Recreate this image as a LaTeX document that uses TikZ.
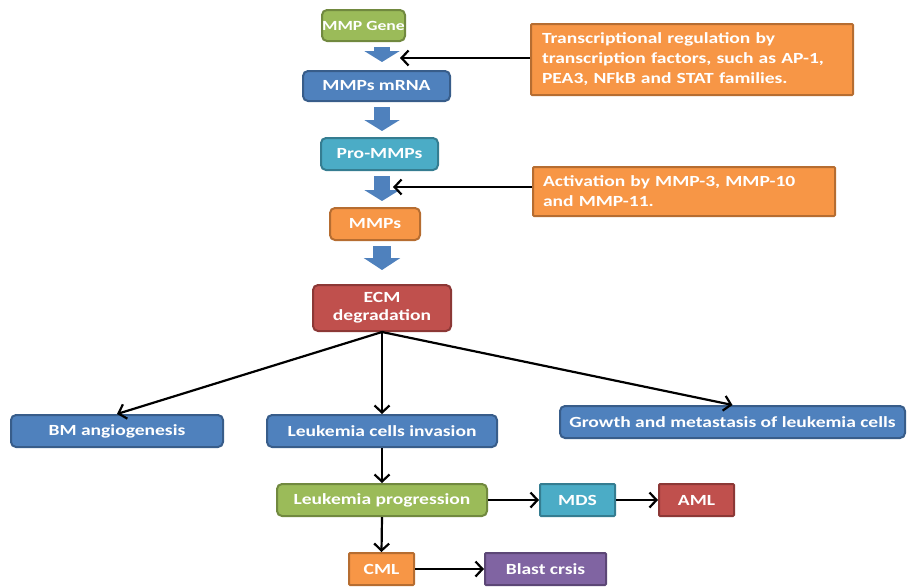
\documentclass[tikz,border=0pt]{standalone}
\usepackage{fontspec}
\setmainfont{Carlito}[FakeStretch=1.26]
\usetikzlibrary{arrows.meta}
\definecolor{cgreen}{HTML}{9BBB59}
\definecolor{cgreenline}{HTML}{71893F}
\definecolor{cblue}{HTML}{4F81BD}
\definecolor{cblueline}{HTML}{385D8A}
\definecolor{cteal}{HTML}{4BACC6}
\definecolor{ctealline}{HTML}{357D91}
\definecolor{corange}{HTML}{F79646}
\definecolor{corangeline}{HTML}{B66D31}
\definecolor{cred}{HTML}{C0504D}
\definecolor{credline}{HTML}{8C3836}
\definecolor{cpurple}{HTML}{8064A2}
\definecolor{cpurpleline}{HTML}{5C4776}
\begin{document}
\begin{tikzpicture}[
    x=1pt, y=-1pt,
    box/.style={draw, line width=2pt, rounded corners=5pt, text=white, inner sep=0pt,
                align=center, font=\bfseries\fontsize{15.5}{18}\selectfont,
                minimum height=32pt},
    sq/.style={rounded corners=1pt},
    greenbox/.style={box, fill=cgreen, draw=cgreenline},
    bluebox/.style={box, fill=cblue, draw=cblueline},
    tealbox/.style={box, fill=cteal, draw=ctealline},
    orangebox/.style={box, fill=corange, draw=corangeline},
    redbox/.style={box, fill=cred, draw=credline},
    purplebox/.style={box, fill=cpurple, draw=cpurpleline},
    note/.style={orangebox, sq, align=left, font=\bfseries\fontsize{15.5}{20}\selectfont},
    flow/.style={line width=2.2pt, -{Straight Barb[length=7pt,width=15pt]}},
    block/.style={line width=16pt, draw=cblue, shorten <=5pt, shorten >=6pt,
                  -{Triangle[length=11pt,width=35pt,fill=cblue]}}
  ]
  \useasboundingbox (0,0) rectangle (907,587);

  \node[greenbox, minimum width=83pt, minimum height=31pt,
        font=\bfseries\fontsize{14}{16}\selectfont] (gene) at (363.5,25.5) {MMP Gene};
  \node[bluebox, minimum width=147pt, minimum height=30pt] (mrna) at (376.5,86) {MMPs mRNA};
  \node[tealbox, minimum width=117pt] (pro) at (379.5,154) {Pro-MMPs};
  \node[orangebox, minimum width=90pt] (mmps) at (375,224) {MMPs};
  \node[redbox, minimum width=138pt, minimum height=46pt] (ecm) at (382,308) {ECM\\degradation};

  \node[note, minimum width=322pt, minimum height=71pt, text width=300pt] (reg) at (692,59.5)
    {Transcriptional regulation by\\transcription factors, such as AP-1,\\PEA3, NFkB and STAT families.};
  \node[note, minimum width=302pt, minimum height=49pt, text width=282pt] (act) at (684,191.5)
    {Activation by MMP-3, MMP-10\\and MMP-11.};
  \coordinate (regtip) at (400,58);
  \coordinate (acttip) at (393,187);

  \node[bluebox, minimum width=212pt] (bm) at (117,431) {BM angiogenesis};
  \node[bluebox, minimum width=230pt] (inv) at (382,431) {Leukemia cells invasion};
  \node[bluebox, minimum width=345pt] (growth) at (732.5,422) {Growth and metastasis of leukemia cells};
  \node[greenbox, minimum width=210pt] (prog) at (382,500) {Leukemia progression};
  \node[tealbox, sq, minimum width=75pt] (mds) at (577.5,500) {MDS};
  \node[redbox, sq, minimum width=75pt] (aml) at (696.5,500) {AML};
  \node[orangebox, sq, minimum width=65pt] (cml) at (381.5,569) {CML};
  \node[purplebox, sq, minimum width=121pt] (blast) at (545.5,569) {Blast crsis};

  \draw[block, shorten >=8pt] (gene.south -| ecm.north) -- (mrna.north -| ecm.north);
  \draw[block] (mrna.south -| ecm.north) -- (pro.north -| ecm.north);
  \draw[block] (pro.south -| ecm.north) -- (mmps.north -| ecm.north);
  \draw[block, line width=18pt, shorten >=14pt,
        -{Triangle[length=12pt,width=36pt,fill=cblue]}] (mmps.south -| ecm.north) -- (ecm.north);

  \draw[flow] (reg.west |- regtip) -- (regtip);
  \draw[flow] (act.west |- acttip) -- (acttip);

  \draw[flow] (ecm.south) -- (bm.north);
  \draw[flow] (ecm.south) -- (inv.north);
  \draw[flow] (ecm.south) -- (growth.north);
  \draw[flow] (inv.south) -- (prog.north);
  \draw[flow] (prog.east) -- (mds.west);
  \draw[flow] (mds.east) -- (aml.west);
  \draw[flow] (prog.south) -- (cml.north);
  \draw[flow] (cml.east) -- (blast.west);
\end{tikzpicture}
\end{document}
